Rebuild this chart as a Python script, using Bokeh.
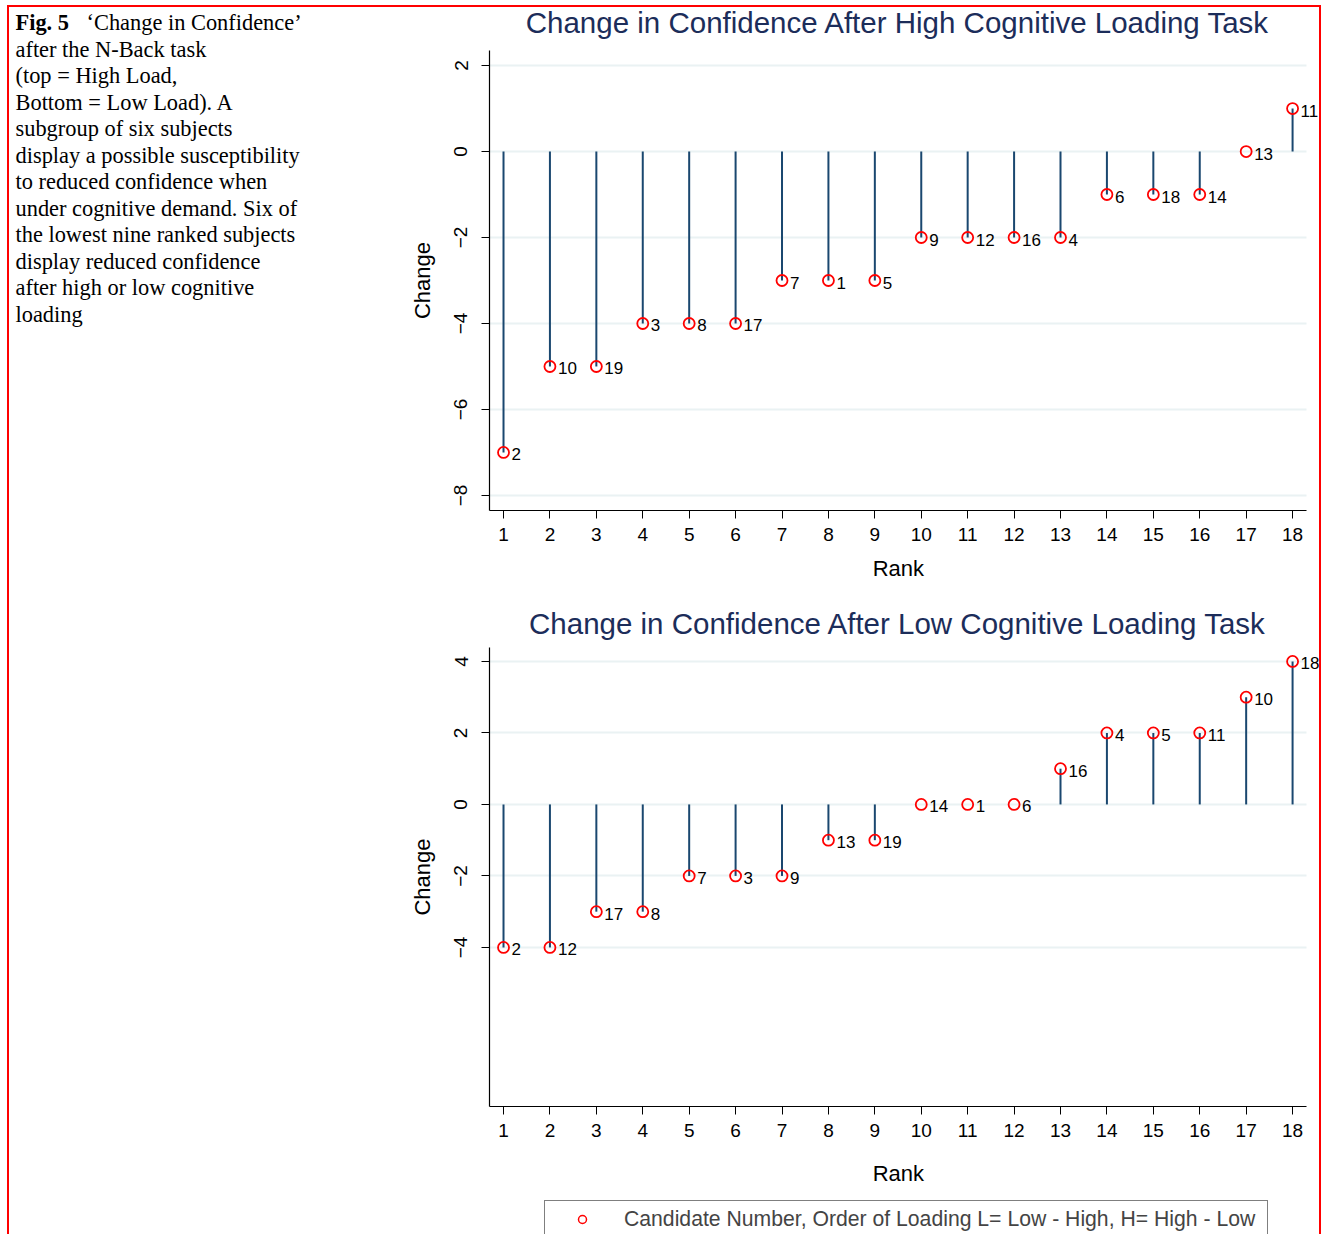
from bokeh.plotting import figure
from bokeh.layouts import row, column
from bokeh.models import FixedTicker, Range1d, Legend, LegendItem, ColumnDataSource
from bokeh.core.properties import value
from bokeh.embed import file_html
from bokeh.resources import INLINE

# ---------------- data ----------------
ranks = list(range(1, 19))
high_change = [-7, -5, -5, -4, -4, -4, -3, -3, -3, -2, -2, -2, -2, -1, -1, -1, 0, 1]
high_candidate = ["2", "10", "19", "3", "8", "17", "7", "1", "5", "9", "12", "16", "4", "6", "18", "14", "13", "11"]
low_change = [-4, -4, -3, -3, -2, -2, -2, -1, -1, 0, 0, 0, 1, 2, 2, 2, 3, 4]
low_candidate = ["2", "12", "17", "8", "7", "3", "9", "13", "19", "14", "1", "6", "16", "4", "5", "11", "10", "18"]
high_yticks = [-8, -6, -4, -2, 0, 2]
low_yticks = [-4, -2, 0, 2, 4]

title_high = "Change in Confidence After High Cognitive Loading Task"
title_low = "Change in Confidence After Low Cognitive Loading Task"
x_label = "Rank"
y_label = "Change"
legend_text = "Candidate Number, Order of Loading L= Low - High, H= High - Low"
caption_bold = "Fig. 5"
caption_lines = [
    "\u2018Change in Confidence\u2019",
    "after the N-Back task",
    "(top = High Load,",
    "Bottom = Low Load). A",
    "subgroup of six subjects",
    "display a possible susceptibility",
    "to reduced confidence when",
    "under cognitive demand. Six of",
    "the lowest nine ranked subjects",
    "display reduced confidence",
    "after high or low cognitive",
    "loading",
]

SANS = "Liberation Sans"
SERIF = "Liberation Serif"
STEM = "#1a476f"
TITLE_C = "#1c2d5a"
GRID_C = "#eaf2f3"

CAP_W = 389
PLOT_W = 921
X_RANGE = (0.698, 18.58)
X_AXIS_END = 18.3
X_MID = (X_RANGE[0] + X_AXIS_END) / 2


def strip(height):
    f = figure(width=PLOT_W, height=height, x_range=Range1d(*X_RANGE), y_range=Range1d(height, 0),
               output_backend="svg", toolbar_location=None, x_axis_type=None, y_axis_type=None,
               min_border_left=91, min_border_right=0, min_border_top=0, min_border_bottom=0)
    f.outline_line_color = None
    f.grid.visible = False
    return f


def title_strip(height, text, ypos):
    f = strip(height)
    f.text(x=[X_MID], y=[ypos], text=[text], text_font=value(SANS), text_font_size="29.5px",
           text_color=TITLE_C, text_align="center", text_baseline="middle")
    return f


def make_plot(height, yr, yticks, change, cands, bottom, xlab_standoff):
    p = figure(width=PLOT_W, height=height, x_range=Range1d(*X_RANGE), y_range=Range1d(*yr),
               output_backend="svg", toolbar_location=None,
               min_border_left=91, min_border_right=0, min_border_top=0, min_border_bottom=bottom)
    p.outline_line_color = None
    p.xgrid.visible = False
    g = p.ygrid[0]
    g.ticker = FixedTicker(ticks=yticks)
    g.grid_line_color = GRID_C
    g.grid_line_width = 2
    if "cross_bounds" in g.properties():
        g.cross_bounds = (X_RANGE[0], X_AXIS_END)
    for ax in (p.xaxis[0], p.yaxis[0]):
        ax.axis_line_color = "black"
        ax.axis_line_width = 1.2
        ax.major_tick_line_color = "black"
        ax.major_tick_out = 8
        ax.major_tick_in = 0
        ax.minor_tick_line_color = None
        ax.major_label_text_font = SANS
        ax.major_label_text_font_size = "19px"
        ax.major_label_text_color = "black"
        ax.axis_label_text_font = SANS
        ax.axis_label_text_font_size = "22px"
        ax.axis_label_text_font_style = "normal"
        ax.axis_label_text_color = "black"
    p.xaxis.ticker = FixedTicker(ticks=ranks)
    p.xaxis.bounds = (X_RANGE[0], X_AXIS_END)
    # two trailing no-break spaces keep the label centred under the drawn axis line
    p.xaxis.axis_label = x_label + "\u00a0\u00a0"
    p.xaxis.major_label_standoff = 9
    p.xaxis.axis_label_standoff = xlab_standoff
    p.yaxis.ticker = FixedTicker(ticks=yticks)
    p.yaxis.axis_label = y_label
    p.yaxis.major_label_orientation = "vertical"
    p.yaxis.major_label_standoff = 14
    p.yaxis.axis_label_standoff = 17

    src = ColumnDataSource(dict(x=ranks, y=change, zero=[0] * len(ranks), lab=cands))
    p.segment(x0="x", y0="zero", x1="x", y1="y", source=src, line_color=STEM, line_width=2)
    p.scatter(x="x", y="y", source=src, marker="circle", size=11, fill_color=None,
              line_color="red", line_width=1.8)
    p.text(x="x", y="y", text="lab", source=src, x_offset=8, y_offset=2,
           text_font=value(SANS), text_font_size="17px", text_color="black",
           text_baseline="middle", text_align="left")
    return p


t1 = title_strip(43, title_high, 15)
p1 = make_plot(550, (-8.35, 2.35), high_yticks, high_change, high_candidate, 90, 12)
t2 = title_strip(47, title_low, 23)
p2 = make_plot(548, (-8.45, 4.39), low_yticks, low_change, low_candidate, 89, 21)

# legend strip below the lower chart
LEG_H = 39
lf = strip(LEG_H)
leg_r = lf.scatter(x=ranks[:1], y=low_change[:1], marker="circle", size=8, fill_color=None,
                   line_color="red", line_width=1.5, visible=False)
legend = Legend(items=[LegendItem(label=legend_text, renderers=[leg_r])], location=(55, -4),
                orientation="horizontal", border_line_color="black", border_line_width=1,
                background_fill_color="white", label_text_font=SANS, label_text_font_size="21.2px",
                padding=6, margin=0, glyph_width=62, label_standoff=11, label_width=637)
lf.add_layout(legend)

# caption
H_CAP = 43 + 550 + 47 + 548 + LEG_H
cap = figure(width=CAP_W, height=H_CAP, x_range=Range1d(0, CAP_W), y_range=Range1d(H_CAP, 0),
             output_backend="svg", toolbar_location=None, x_axis_type=None, y_axis_type=None,
             min_border=0)
cap.outline_line_color = None
cap.grid.visible = False
line_y = [15 + 26.5 * i for i in range(len(caption_lines))]
line_x = [77] + [6] * (len(caption_lines) - 1)
cap.text(x=[6], y=[line_y[0]], text=[caption_bold], text_font=value(SERIF), text_font_size="22.4px",
         text_font_style="bold", text_baseline="middle", text_color="black")
cap.text(x=line_x, y=line_y, text=caption_lines, text_font=value(SERIF), text_font_size="22.4px",
         text_baseline="middle", text_color="black")

layout = row(cap, column(t1, p1, t2, p2, lf), margin=(5, 0, 0, 7),
             styles={"border-top": "2px solid red", "border-left": "2px solid red",
                     "border-right": "2px solid red"})

open("out.html", "w").write(file_html(layout, INLINE))
